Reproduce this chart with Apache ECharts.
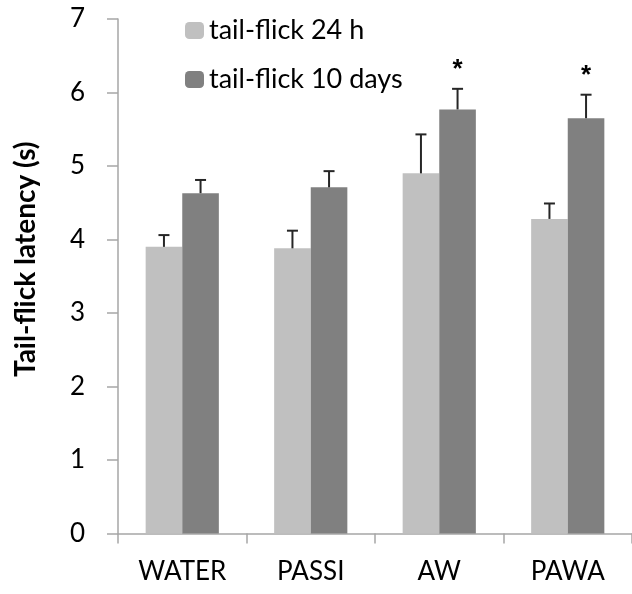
<!DOCTYPE html>
<html>
<head>
<meta charset="utf-8">
<script src="https://cdn.jsdelivr.net/npm/echarts@6/dist/echarts.min.js"></script>
<style>
  html, body { margin: 0; padding: 0; background: #fff; }
</style>
</head>
<body>
<div id="main" style="width: 632px; height: 594px"></div>
<script>
const categories = ['WATER', 'PASSI', 'AW', 'PAWA'];
const seriesNames = ['tail-flick 24 h', 'tail-flick 10 days'];
const values24h = [3.90, 3.88, 4.90, 4.28];
const values10d = [4.63, 4.71, 5.77, 5.65];
const errTop24h = [4.06, 4.12, 5.43, 4.49];
const errTop10d = [4.81, 4.93, 6.05, 5.97];
const sigMarks10d = ['', '', '*', '*'];

const barW = 36.6;
const fontLbl = 'Lato, "Noto Sans", sans-serif';

function errorSeries(tops, vals, side, marks) {
  return {
    type: 'custom',
    z: 5,
    data: tops.map((t, i) => [i, vals[i], t]),
    renderItem: function (params, api) {
      const i = api.value(0);
      const base = api.coord([i, api.value(1)]);
      const top = api.coord([i, api.value(2)]);
      const x = base[0] + side * barW / 2;
      const children = [
        { type: 'line', shape: { x1: x, y1: base[1], x2: x, y2: top[1] },
          style: { stroke: '#262626', lineWidth: 2 } },
        { type: 'line', shape: { x1: x - 5.5, y1: top[1], x2: x + 5.5, y2: top[1] },
          style: { stroke: '#262626', lineWidth: 2 } }
      ];
      const m = marks ? marks[i] : '';
      if (m) {
        children.push({
          type: 'text',
          style: { text: m, x: x, y: top[1] - 6, align: 'center', verticalAlign: 'bottom',
                   font: 'bold 26px "Liberation Sans", Arial, sans-serif', fill: '#000' }
        });
      }
      return { type: 'group', children: children };
    }
  };
}

const myChart = echarts.init(document.getElementById('main'));
myChart.setOption({
  animation: false,
  grid: { left: 118, top: 19, width: 518, height: 514.5 },
  legend: {
    data: seriesNames,
    orient: 'vertical',
    left: 180,
    top: 12,
    itemWidth: 19,
    itemHeight: 17,
    itemGap: 22,
    textStyle: { fontFamily: fontLbl, fontSize: 27, color: '#000' }
  },
  xAxis: {
    type: 'category',
    data: categories,
    axisLine: { lineStyle: { color: '#a6a6a6', width: 1.5 } },
    axisTick: { show: true, length: 10, lineStyle: { color: '#a6a6a6', width: 1.5 } },
    axisLabel: { margin: 25, fontFamily: fontLbl, fontSize: 26, color: '#000' }
  },
  yAxis: {
    type: 'value',
    min: 0, max: 7, interval: 1,
    name: 'Tail-flick latency (s)',
    nameLocation: 'middle',
    nameGap: 78,
    nameTextStyle: { fontFamily: fontLbl, fontWeight: 'bold', fontSize: 28, color: '#000',
                     padding: [0, 0, 0, 34] },
    splitLine: { show: false },
    axisLine: { show: true, lineStyle: { color: '#a6a6a6', width: 1.5 } },
    axisTick: { show: true, length: 11, lineStyle: { color: '#a6a6a6', width: 1.5 } },
    axisLabel: { margin: 33, fontFamily: fontLbl, fontSize: 26, color: '#000' }
  },
  series: [
    { name: seriesNames[0], type: 'bar', data: values24h, barWidth: barW, barGap: '0%',
      itemStyle: { color: '#c0c0c0' } },
    { name: seriesNames[1], type: 'bar', data: values10d, barWidth: barW, barGap: '0%',
      itemStyle: { color: '#808080' } },
    errorSeries(errTop24h, values24h, -1, null),
    errorSeries(errTop10d, values10d, 1, sigMarks10d)
  ]
});
</script>
</body>
</html>
